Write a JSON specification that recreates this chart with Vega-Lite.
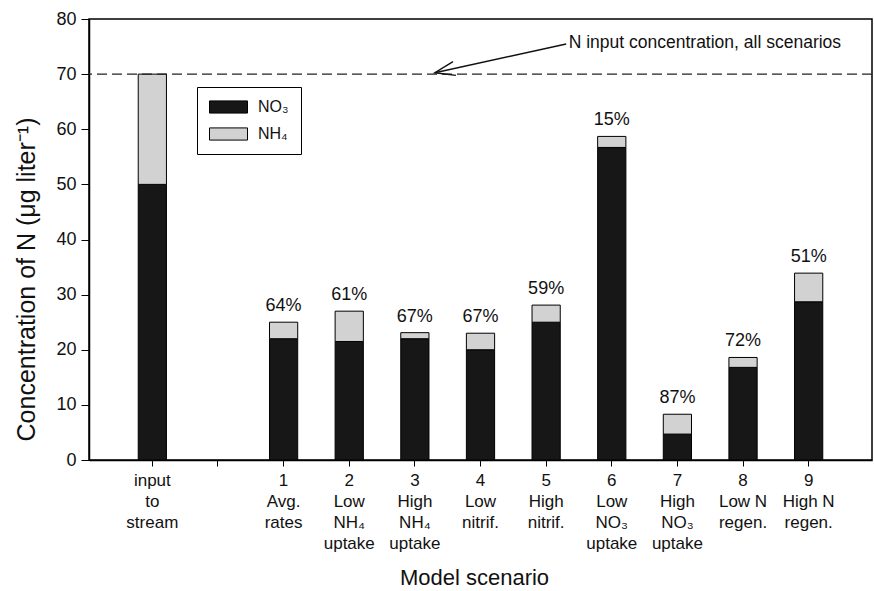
{
  "$schema": "https://vega.github.io/schema/vega-lite/v6.json",
  "autosize": {"type": "none"},
  "padding": {"left": 89, "top": 19, "right": 2, "bottom": 131},
  "width": 783,
  "height": 441,
  "background": "white",
  "datasets": {
    "main": [
      {"scenario": "input|to|stream", "species": "NO₃", "value": 50, "pct": null},
      {"scenario": "input|to|stream", "species": "NH₄", "value": 20, "pct": null},
      {"scenario": "1|Avg.|rates", "species": "NO₃", "value": 22, "pct": "64%"},
      {"scenario": "1|Avg.|rates", "species": "NH₄", "value": 3, "pct": "64%"},
      {"scenario": "2|Low|NH₄|uptake", "species": "NO₃", "value": 21.5, "pct": "61%"},
      {"scenario": "2|Low|NH₄|uptake", "species": "NH₄", "value": 5.5, "pct": "61%"},
      {"scenario": "3|High|NH₄|uptake", "species": "NO₃", "value": 22, "pct": "67%"},
      {"scenario": "3|High|NH₄|uptake", "species": "NH₄", "value": 1.1, "pct": "67%"},
      {"scenario": "4|Low|nitrif.", "species": "NO₃", "value": 20, "pct": "67%"},
      {"scenario": "4|Low|nitrif.", "species": "NH₄", "value": 3, "pct": "67%"},
      {"scenario": "5|High|nitrif.", "species": "NO₃", "value": 25, "pct": "59%"},
      {"scenario": "5|High|nitrif.", "species": "NH₄", "value": 3.1, "pct": "59%"},
      {"scenario": "6|Low|NO₃|uptake", "species": "NO₃", "value": 56.7, "pct": "15%"},
      {"scenario": "6|Low|NO₃|uptake", "species": "NH₄", "value": 2, "pct": "15%"},
      {"scenario": "7|High|NO₃|uptake", "species": "NO₃", "value": 4.7, "pct": "87%"},
      {"scenario": "7|High|NO₃|uptake", "species": "NH₄", "value": 3.6, "pct": "87%"},
      {"scenario": "8|Low N|regen.", "species": "NO₃", "value": 16.8, "pct": "72%"},
      {"scenario": "8|Low N|regen.", "species": "NH₄", "value": 1.8, "pct": "72%"},
      {"scenario": "9|High N|regen.", "species": "NO₃", "value": 28.7, "pct": "51%"},
      {"scenario": "9|High N|regen.", "species": "NH₄", "value": 5.2, "pct": "51%"}
    ]
  },
  "layer": [
    {
      "data": {"name": "main"},
      "mark": {"type": "bar", "stroke": "black", "strokeWidth": 1},
      "encoding": {
        "x": {
          "field": "scenario",
          "type": "nominal",
          "title": "Model scenario",
          "scale": {
            "domain": ["input|to|stream", " ", "1|Avg.|rates", "2|Low|NH₄|uptake", "3|High|NH₄|uptake", "4|Low|nitrif.", "5|High|nitrif.", "6|Low|NO₃|uptake", "7|High|NO₃|uptake", "8|Low N|regen.", "9|High N|regen."],
            "paddingInner": 0.57,
            "paddingOuter": 0.75
          },
          "axis": {
            "labelExpr": "split(datum.value, '|')",
            "labelAngle": 0,
            "labelFontSize": 17,
            "labelLineHeight": 21,
            "labelPadding": 6,
            "tickSize": 6,
            "domainWidth": 1.5,
            "titleFontSize": 22,
            "titlePadding": 16,
            "titleX": 385
          }
        },
        "y": {
          "field": "value",
          "type": "quantitative",
          "aggregate": "sum",
          "title": "Concentration of N (μg liter⁻¹)",
          "scale": {"domain": [0, 80], "nice": false},
          "axis": {
            "values": [0, 10, 20, 30, 40, 50, 60, 70, 80],
            "labelFontSize": 18,
            "tickSize": 8,
            "labelPadding": 5,
            "domainWidth": 1.5,
            "titleFontSize": 25,
            "titlePadding": 16,
            "titleY": 260
          }
        },
        "color": {
          "field": "species",
          "type": "nominal",
          "scale": {"domain": ["NO₃", "NH₄"], "range": ["#171717", "#d2d2d2"]},
          "legend": {
            "orient": "none",
            "legendX": 108,
            "legendY": 68,
            "title": null,
            "strokeColor": "black",
            "fillColor": "white",
            "padding": 12,
            "clipHeight": 16,
            "rowPadding": 11,
            "symbolType": "M-1,-0.32H1V0.32H-1Z",
            "symbolSize": 1444,
            "symbolStrokeColor": "black",
            "symbolStrokeWidth": 1,
            "labelFontSize": 16,
            "labelOffset": 10
          }
        },
        "order": {"field": "species", "sort": "descending"}
      }
    },
    {
      "data": {"name": "main"},
      "transform": [
        {"aggregate": [{"op": "sum", "field": "value", "as": "total"}], "groupby": ["scenario", "pct"]},
        {"filter": "datum.pct != null"}
      ],
      "mark": {"type": "text", "baseline": "alphabetic", "dy": -11, "fontSize": 18, "color": "#111"},
      "encoding": {
        "x": {"field": "scenario", "type": "nominal", "title": "Model scenario"},
        "y": {"field": "total", "type": "quantitative", "title": "Concentration of N (μg liter⁻¹)"},
        "text": {"field": "pct", "type": "nominal"}
      }
    },
    {
      "data": {"values": [{"level": 70}]},
      "mark": {"type": "rule", "strokeDash": [10, 5], "color": "#222", "strokeWidth": 1.4},
      "encoding": {
        "y": {"field": "level", "type": "quantitative", "title": "Concentration of N (μg liter⁻¹)"}
      }
    },
    {
      "data": {"values": [
        {"scenario": "3|High|NH₄|uptake", "value": 70.26},
        {"scenario": "5|High|nitrif.", "value": 75.47}
      ]},
      "mark": {"type": "line", "color": "#111", "strokeWidth": 1.5},
      "encoding": {
        "x": {"field": "scenario", "type": "nominal", "bandPosition": 1.21, "title": "Model scenario"},
        "y": {"field": "value", "type": "quantitative", "title": "Concentration of N (μg liter⁻¹)"}
      }
    },
    {
      "data": {"values": [{"scenario": "3|High|NH₄|uptake", "value": 70.26}]},
      "mark": {"type": "point", "shape": "M1,-0.35L0,0L1,0.35", "filled": false, "stroke": "#111", "strokeWidth": 1.5, "size": 1600, "angle": 348, "opacity": 1},
      "encoding": {
        "x": {"field": "scenario", "type": "nominal", "bandPosition": 1.21, "title": "Model scenario"},
        "y": {"field": "value", "type": "quantitative", "title": "Concentration of N (μg liter⁻¹)"}
      }
    },
    {
      "data": {"values": [{"scenario": "5|High|nitrif.", "value": 75.6, "label": "N input concentration, all scenarios"}]},
      "mark": {"type": "text", "align": "left", "baseline": "middle", "fontSize": 17.5, "color": "#111"},
      "encoding": {
        "x": {"field": "scenario", "type": "nominal", "bandPosition": 1.3, "title": "Model scenario"},
        "y": {"field": "value", "type": "quantitative", "title": "Concentration of N (μg liter⁻¹)"},
        "text": {"field": "label", "type": "nominal"}
      }
    }
  ],
  "config": {
    "font": "Liberation Sans",
    "view": {"stroke": "black", "strokeWidth": 1.5},
    "axis": {
      "domainColor": "black",
      "tickColor": "black",
      "labelColor": "#111",
      "titleColor": "#111",
      "grid": false,
      "titleFontWeight": "normal"
    },
    "legend": {"labelColor": "#111"}
  }
}
